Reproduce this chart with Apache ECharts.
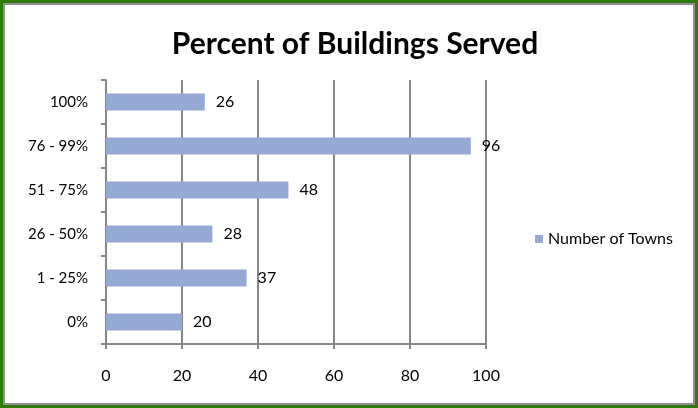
<!DOCTYPE html>
<html>
<head>
<meta charset="utf-8">
<script src="https://cdn.jsdelivr.net/npm/echarts@6/dist/echarts.min.js"></script>
<style>
  html, body { margin: 0; padding: 0; background: #fff; }
  .wrap { position: relative; width: 698px; height: 408px; }
  #chart { position: absolute; left: 0; top: 0; width: 698px; height: 408px; }
  .frame {
    position: absolute; left: 0; top: 0; width: 698px; height: 408px;
    box-sizing: border-box; border: 3px solid #2e7a08; pointer-events: none;
  }
  .frame div {
    width: 100%; height: 100%; box-sizing: border-box; border: 2px solid #8f8f8f;
  }
</style>
</head>
<body>
<div class="wrap">
  <div id="chart"></div>
  <div class="frame"><div></div></div>
</div>
<script>
// categories bottom -> top
const categories = ["0%", "1 - 25%", "26 - 50%", "51 - 75%", "76 - 99%", "100%"];
const towns = [20, 37, 28, 48, 96, 26];
const xTicks = [0, 20, 40, 60, 80, 100];

const font = "Lato, 'Open Sans', sans-serif";
const axisGray = "#878787";

const chart = echarts.init(document.getElementById("chart"));
chart.setOption({
  animation: false,
  title: {
    text: "Percent of Buildings Served",
    left: 350,
    top: 24,
    textAlign: "center",
    textStyle: { fontFamily: font, fontSize: 30, fontWeight: "bold", color: "#000" }
  },
  legend: {
    orient: "vertical",
    left: 530,
    top: 226,
    itemWidth: 8,
    itemHeight: 8,
    itemGap: 6,
    textStyle: { fontFamily: font, fontSize: 16, color: "#000" },
    data: [{ name: "Number of Towns", icon: "rect" }]
  },
  grid: { left: 106, right: 212, top: 80, bottom: 64 },
  xAxis: {
    type: "value",
    min: xTicks[0],
    max: xTicks[xTicks.length - 1],
    interval: 20,
    axisLine: { show: true, lineStyle: { color: axisGray, width: 2 } },
    axisTick: { show: true, length: 5, lineStyle: { color: axisGray, width: 2 } },
    splitLine: { show: true, lineStyle: { color: axisGray, width: 2 } },
    axisLabel: { margin: 24, fontFamily: font, fontSize: 16, color: "#000" }
  },
  yAxis: {
    type: "category",
    data: categories,
    axisLine: { show: true, lineStyle: { color: axisGray, width: 2 } },
    axisTick: { show: true, length: 5, lineStyle: { color: axisGray, width: 2 } },
    axisLabel: { margin: 18, fontFamily: font, fontSize: 15, color: "#000" }
  },
  series: [{
    name: "Number of Towns",
    type: "bar",
    data: towns,
    barWidth: 17,
    itemStyle: { color: "#94aad4" },
    label: {
      show: true,
      position: "right",
      distance: 11,
      fontFamily: font,
      fontSize: 16,
      color: "#000"
    }
  }]
});
</script>
</body>
</html>
